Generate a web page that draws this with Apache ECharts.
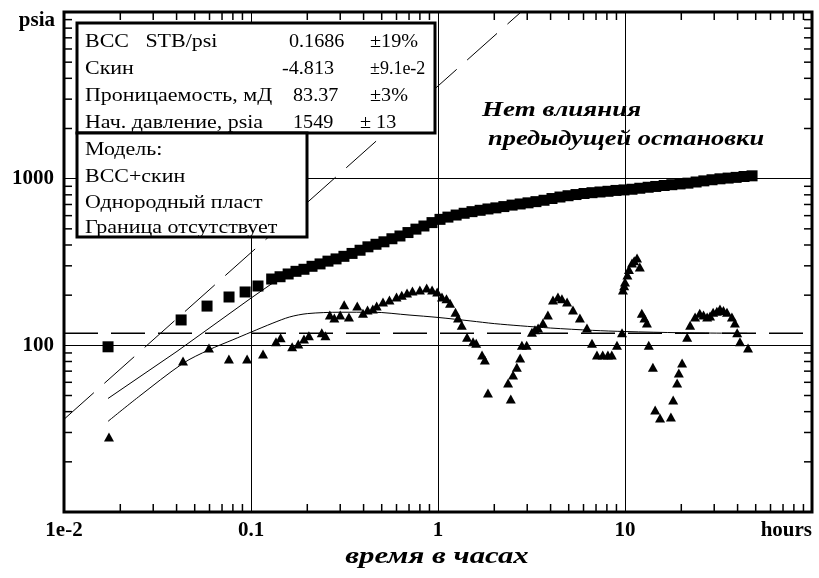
<!DOCTYPE html>
<html><head><meta charset="utf-8">
<script src="https://cdn.jsdelivr.net/npm/echarts@6/dist/echarts.min.js"></script>
<style>html,body{margin:0;padding:0;background:#fff}#c{width:819px;height:578px}</style>
</head><body><div id="c"></div>
<script>
// ---- Axis definitions ----
const xExtent = [0.01, 100];
const yExtent = [10, 10000];
const xTickLabels = ['1e-2', '0.1', '1', '10', 'hours'];   // 10^-2 .. 10^2
const yTickLabels = ['', '100', '1000', ''];              // 10^1 .. 10^4
const yUnitLabel = 'psia';
const xAxisTitle = 'время в часах';
const xMinorTicks = [0.02,0.03,0.04,0.05,0.06,0.07,0.08,0.09,0.2,0.3,0.4,0.5,0.6,0.7,0.8,0.9,2,3,4,5,6,7,8,9,20,30,40,50,60,70,80,90];
const yMinorTicks = [20,30,40,50,60,70,80,90,200,300,400,500,600,700,800,900,2000,3000,4000,5000,6000,7000,8000,9000];

// ---- Pressure change (squares) ----
const pressureTime = [0.0172,0.0423,0.0582,0.0763,0.093,0.109,
  0.129,0.143,0.158,0.174,0.192,0.212,0.234,0.258,0.285,0.314,0.347,0.383,0.422,0.466,0.514,0.567,0.626,0.691,0.762,0.841,0.929,
  1.025,1.13,1.25,1.38,1.52,1.68,1.85,2.04,2.25,2.49,2.75,3.03,3.34,3.69,4.07,4.49,4.96,5.47,6.04,6.66,7.35,8.11,8.95,9.88,
  10.9,12.0,13.3,14.6,16.2,17.8,19.7,21.7,24.0,26.4,29.2,32.2,35.6,39.3,43.3,47.8];
const pressureValue = [98,142,172,195,209,227,
  250,258,268,278,286,298,308,320,330,342,356,372,390,404,418,436,453,475,498,520,545,
  570,588,605,620,634,646,658,668,680,694,705,716,728,742,760,776,790,803,815,824,832,840,850,856,
  864,876,888,898,910,920,930,940,955,970,985,998,1008,1018,1030,1040];

// ---- Pressure derivative (triangles) ----
const derivTime = [0.0174,0.0433,0.0596,0.0762,0.0953,0.116,0.136,0.144,0.166,0.179,
  0.192,0.204,0.239,0.25,0.264,0.279,0.30,0.315,0.334,0.37,
  0.397,0.42,0.448,0.47,0.508,0.55,0.60,0.64,0.683,0.73,
  0.80,0.87,0.93,0.99,1.05,1.11,1.16,1.24,1.28,1.34,
  1.43,1.54,1.6,1.72,1.78,1.85,2.37,2.45,2.52,2.64,
  2.75,2.81,2.98,3.18,3.3,3.43,3.64,3.87,4.12,4.38,
  4.6,4.9,5.27,5.74,6.26,6.66,7.08,7.6,8.1,8.5,
  9.06,9.64,9.75,9.9,10.0,10.3,10.5,10.9,11.2,11.6,
  12.0,12.3,12.7,13.1,13.4,14.1,14.5,15.4,17.6,18.1,
  19.0,19.4,20.2,21.5,22.3,23.7,25.1,26.3,27.5,28.5,
  29.6,31.0,32.2,33.6,35.1,37.3,38.7,39.8,41.2,45.5];
const derivValue = [28.2,80.5,96.4,82.8,82.8,88.7,105,111,98,102,
  109,114,119,114,152,146,152,175,148,172,
  156,163,165,172,182,187,195,200,206,212,
  215,221,215,209,195,190,179,158,146,132,
  112,105,103,87.5,81.7,51.8,59.4,47.7,66.4,74,
  84,100,100,120,124,127,136,152,187,195,
  190,182,163,146,127,103,87.5,87.5,87.5,87.5,
  100,119,215,228,240,264,285,312,322,334,
  295,156,146,136,100,74,40.9,36.6,37.2,47,
  59.4,68.2,78.3,112,132,148,156,152,148,150,
  158,160,165,162,158,148,136,119,105,96.4];

// ---- Model curves ----
const modelPTime = [0.0172,0.0402,0.1,0.131,0.15,0.2,0.3,0.5,0.7,1,1.5,2,3,5,7,10,15,20,30,47];
const modelPValue = [48,92,192,237,255,292,340,425,478,560,625,662,715,790,830,856,902,932,990,1040];
const modelDTime = [0.0172,0.025,0.0433,0.0596,0.08,0.1,0.131,0.161,0.2,0.3,0.45,0.7,1,1.5,2,2.75,4,6.7,10,20,45];
const modelDValue = [35,49,78,94,108,120,136,148,155,158,158,152,147,140,135,131,127,123,121,119,118];
const unitSlopeTime = [0.01, 2.78];
const unitSlopeValue = [36, 10000];
const radialTime = [0.01, 100];
const radialValue = [118, 118];

const zip = (a, b) => a.map((v, i) => [v, b[i]]);
const lg = v => Math.round(Math.log10(v));

const chart = echarts.init(document.getElementById('c'));
const tickStyle = {stroke: '#000', lineWidth: 1.5};
const serif = '"Liberation Serif", "Times New Roman", serif';

function txt(x, y, s, opt) {
  opt = opt || {};
  return {type: 'text', x: x, y: y, scaleX: opt.sx || 1.22, z: 102,
    style: {text: s, fontFamily: serif, fontSize: opt.size || 18, fontWeight: opt.weight || 'normal',
      fontStyle: opt.style || 'normal', fill: '#000', align: opt.align || 'left', verticalAlign: 'middle'}};
}
const num = {sx: 1.12};

chart.setOption({
  animation: false,
  backgroundColor: '#fff',
  grid: {left: 64, right: 7, top: 12, bottom: 66, show: true, borderColor: '#000', borderWidth: 3},
  xAxis: {type: 'log', logBase: 10, min: xExtent[0], max: xExtent[1],
    axisLine: {show: false}, axisTick: {show: false},
    splitLine: {show: true, lineStyle: {color: '#000', width: 1}},
    axisLabel: {formatter: v => xTickLabels[lg(v) + 2] || '', fontFamily: serif, fontWeight: 'bold', fontSize: 21,
      color: '#000', margin: 8, showMinLabel: true, showMaxLabel: true, alignMaxLabel: 'right'}},
  yAxis: {type: 'log', logBase: 10, min: yExtent[0], max: yExtent[1],
    axisLine: {show: false}, axisTick: {show: false},
    splitLine: {show: true, lineStyle: {color: '#000', width: 1}},
    axisLabel: {formatter: v => yTickLabels[lg(v) - 1] || '', fontFamily: serif, fontWeight: 'bold', fontSize: 21,
      color: '#000', margin: 10, showMinLabel: true, showMaxLabel: true}},
  series: [
    {type: 'custom', coordinateSystem: 'cartesian2d', silent: true, clip: false, z: 3,
      data: xMinorTicks.map(v => [v, yExtent[0]]),
      renderItem: (p, api) => {
        const b = api.coord([api.value(0), yExtent[0]]);
        const t = api.coord([api.value(0), yExtent[1]]);
        return {type: 'group', children: [
          {type: 'line', shape: {x1: b[0], y1: b[1], x2: b[0], y2: b[1] - 8}, style: tickStyle},
          {type: 'line', shape: {x1: t[0], y1: t[1], x2: t[0], y2: t[1] + 8}, style: tickStyle}]};
      }},
    {type: 'custom', coordinateSystem: 'cartesian2d', silent: true, clip: false, z: 3,
      data: yMinorTicks.map(v => [xExtent[0], v]),
      renderItem: (p, api) => {
        const l = api.coord([xExtent[0], api.value(1)]);
        const r = api.coord([xExtent[1], api.value(1)]);
        return {type: 'group', children: [
          {type: 'line', shape: {x1: l[0], y1: l[1], x2: l[0] + 8, y2: l[1]}, style: tickStyle},
          {type: 'line', shape: {x1: r[0], y1: r[1], x2: r[0] - 8, y2: r[1]}, style: tickStyle}]};
      }},
    {type: 'line', data: zip(unitSlopeTime, unitSlopeValue), showSymbol: false, symbol: 'none', silent: true,
      lineStyle: {color: '#000', width: 1, type: [40, 14]}, z: 4},
    {type: 'line', data: zip(radialTime, radialValue), showSymbol: false, symbol: 'none', silent: true,
      lineStyle: {color: '#000', width: 1.5, type: [34, 13]}, z: 4},
    {type: 'line', data: zip(modelPTime, modelPValue), showSymbol: false, symbol: 'none', silent: true,
      lineStyle: {color: '#000', width: 1}, z: 4},
    {type: 'line', data: zip(modelDTime, modelDValue), showSymbol: false, symbol: 'none', silent: true, smooth: 0.3,
      lineStyle: {color: '#000', width: 1}, z: 4},
    {type: 'scatter', data: zip(pressureTime, pressureValue), symbol: 'rect', symbolSize: 11,
      itemStyle: {color: '#000', opacity: 1, borderWidth: 0}, z: 5},
    {type: 'scatter', data: zip(derivTime, derivValue), symbol: 'triangle', symbolSize: [10, 9],
      itemStyle: {color: '#000', opacity: 1, borderWidth: 0}, z: 5}
  ],
  graphic: [
    {type: 'rect', z: 100, shape: {x: 77, y: 23, width: 358, height: 110}, style: {fill: '#fff', stroke: '#000', lineWidth: 3}},
    {type: 'rect', z: 100, shape: {x: 77, y: 133, width: 230, height: 104}, style: {fill: '#fff', stroke: '#000', lineWidth: 3}},
    txt(85, 42, 'ВСС   STB/psi'), txt(289, 42, '0.1686', num), txt(370, 42, '±19%', num),
    txt(85, 69, 'Скин'), txt(282, 69, '-4.813', num), txt(370, 69, '±9.1e-2', {sx: 1.0}),
    txt(85, 96, 'Проницаемость, мД'), txt(293, 96, '83.37', num), txt(370, 96, '±3%', num),
    txt(85, 123, 'Нач. давление, psia'), txt(293, 123, '1549', num), txt(360, 123, '± 13', num),
    txt(85, 150, 'Модель:'), txt(85, 177, 'ВСС+скин'), txt(85, 203, 'Однородный пласт'), txt(85, 228, 'Граница отсутствует'),
    txt(482, 111, 'Нет влияния', {size: 20, weight: 'bold', style: 'italic', sx: 1.35}),
    txt(488, 140, 'предыдущей остановки', {size: 20, weight: 'bold', style: 'italic', sx: 1.32}),
    txt(437, 557, xAxisTitle, {size: 23, weight: 'bold', style: 'italic', sx: 1.34, align: 'center'}),
    txt(55, 21, yUnitLabel, {size: 21, weight: 'bold', sx: 1, align: 'right'})
  ]
});
</script></body></html>
